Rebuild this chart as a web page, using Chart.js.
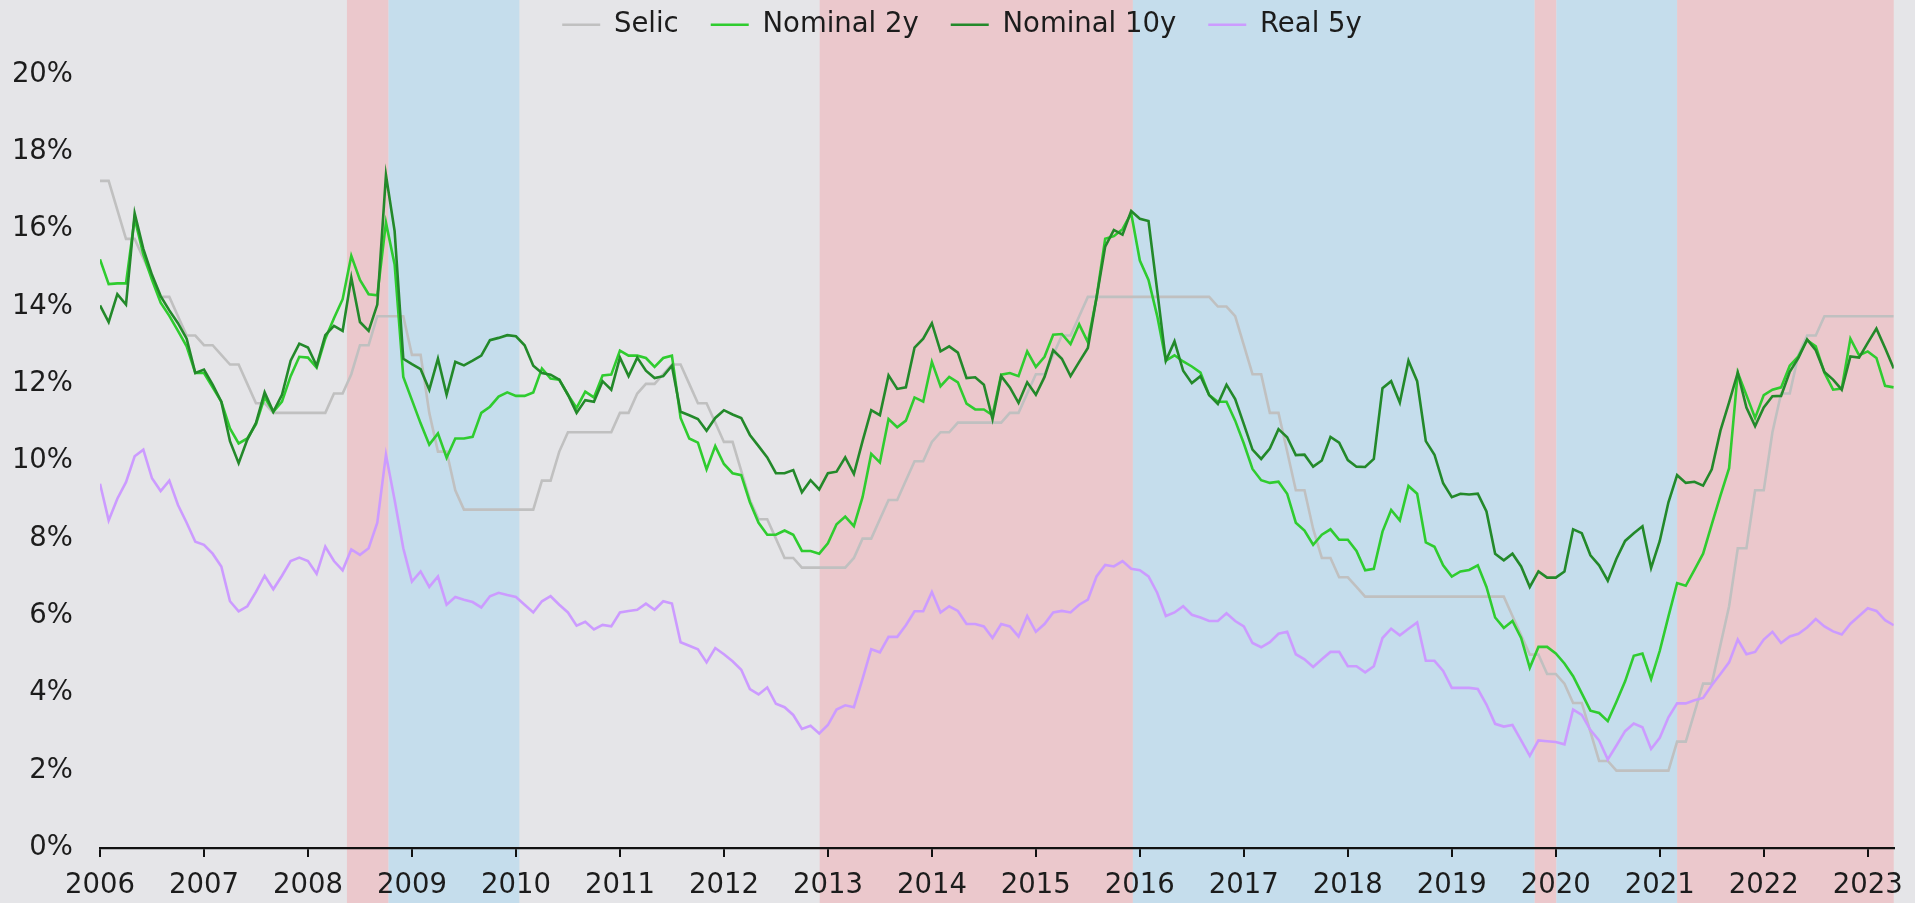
<!DOCTYPE html>
<html>
<head>
<meta charset="utf-8">
<script src="https://cdn.jsdelivr.net/npm/chart.js@4.4.1/dist/chart.umd.min.js"></script>
<style>
  html, body { margin: 0; padding: 0; background: #e5e5e8; }
  #wrap { width: 1915px; height: 903px; }
  canvas { display: block; }
</style>
</head>
<body>
<div id="wrap"><canvas id="c" width="1915" height="903"></canvas></div>
<script>
// ---------- data (monthly, Jan 2006 .. Apr 2023) ----------
const startYear = 2006;
const seriesNames = ['Selic', 'Nominal 2y', 'Nominal 10y', 'Real 5y'];

const selic = [
  17.25,17.25,16.5,15.75,15.75,15.25,14.75,14.25,14.25,13.75,13.25,13.25,
  13,13,12.75,12.5,12.5,12,11.5,11.5,11.25,11.25,11.25,11.25,
  11.25,11.25,11.25,11.75,11.75,12.25,13,13,13.75,13.75,13.75,13.75,
  12.75,12.75,11.25,10.25,10.25,9.25,8.75,8.75,8.75,8.75,8.75,8.75,
  8.75,8.75,8.75,9.5,9.5,10.25,10.75,10.75,10.75,10.75,10.75,10.75,
  11.25,11.25,11.75,12,12,12.25,12.5,12.5,12,11.5,11.5,11,
  10.5,10.5,9.75,9,8.5,8.5,8,7.5,7.5,7.25,7.25,7.25,
  7.25,7.25,7.25,7.5,8,8,8.5,9,9,9.5,10,10,
  10.5,10.75,10.75,11,11,11,11,11,11,11.25,11.25,11.75,
  12.25,12.25,12.75,13.25,13.25,13.75,14.25,14.25,14.25,14.25,14.25,14.25,
  14.25,14.25,14.25,14.25,14.25,14.25,14.25,14.25,14.25,14,14,13.75,
  13,12.25,12.25,11.25,11.25,10.25,9.25,9.25,8.25,7.5,7.5,7,
  7,6.75,6.5,6.5,6.5,6.5,6.5,6.5,6.5,6.5,6.5,6.5,
  6.5,6.5,6.5,6.5,6.5,6.5,6.5,6,5.5,5,5,4.5,
  4.5,4.25,3.75,3.75,3,2.25,2.25,2,2,2,2,2,
  2,2,2.75,2.75,3.5,4.25,4.25,5.25,6.25,7.75,7.75,9.25,
  9.25,10.75,11.75,11.75,12.75,13.25,13.25,13.75,13.75,13.75,13.75,13.75,
  13.75,13.75,13.75,13.75
];

const nominal2y = [
  15.22,14.58,14.60,14.60,16.28,15.35,14.69,14.10,13.76,13.37,12.97,12.28,
  12.28,11.91,11.54,10.85,10.46,10.59,10.96,11.65,11.28,11.54,12.20,12.70,
  12.68,12.42,13.17,13.70,14.19,15.31,14.69,14.32,14.29,16.17,15.09,12.18,
  11.58,10.98,10.43,10.72,10.09,10.59,10.59,10.63,11.25,11.41,11.67,11.78,
  11.69,11.69,11.78,12.40,12.14,12.11,11.72,11.38,11.80,11.65,12.22,12.24,
  12.86,12.73,12.73,12.67,12.44,12.67,12.73,11.12,10.59,10.48,9.79,10.39,
  9.93,9.69,9.64,8.94,8.41,8.10,8.10,8.21,8.10,7.68,7.68,7.61,
  7.88,8.37,8.57,8.32,9.07,10.19,9.97,11.09,10.88,11.05,11.65,11.54,
  12.57,11.94,12.18,12.04,11.49,11.34,11.34,11.19,12.24,12.28,12.20,12.84,
  12.44,12.70,13.27,13.29,13.03,13.54,13.08,14.23,15.75,15.82,16.00,16.41,
  15.19,14.69,13.76,12.60,12.74,12.58,12.45,12.29,11.71,11.54,11.54,11.05,
  10.46,9.80,9.51,9.44,9.47,9.16,8.41,8.21,7.84,8.10,8.24,7.97,
  7.97,7.68,7.18,7.22,8.18,8.74,8.47,9.36,9.16,7.90,7.79,7.31,
  7.02,7.15,7.19,7.31,6.75,5.96,5.69,5.87,5.43,4.66,5.20,5.20,
  5.03,4.77,4.44,4.00,3.55,3.49,3.28,3.78,4.31,4.97,5.03,4.37,
  5.10,5.99,6.85,6.78,7.19,7.61,8.37,9.11,9.82,12.29,11.71,11.12,
  11.71,11.85,11.91,12.47,12.71,13.13,12.97,12.29,11.85,11.88,13.17,12.74,
  12.84,12.67,11.95,11.91
];

const nominal10y = [
  14.03,13.60,14.32,14.05,16.41,15.49,14.82,14.27,13.90,13.57,13.17,12.28,
  12.37,11.98,11.54,10.52,9.95,10.56,10.99,11.78,11.28,11.72,12.60,13.04,
  12.94,12.47,13.26,13.50,13.37,14.75,13.60,13.37,14.05,17.40,15.95,12.65,
  12.51,12.38,11.85,12.65,11.72,12.57,12.48,12.60,12.73,13.13,13.19,13.26,
  13.23,13.00,12.47,12.28,12.24,12.11,11.72,11.25,11.58,11.54,12.07,11.85,
  12.68,12.20,12.68,12.34,12.15,12.20,12.47,11.28,11.19,11.09,10.79,11.12,
  11.32,11.21,11.12,10.68,10.39,10.10,9.69,9.69,9.77,9.20,9.51,9.27,
  9.69,9.73,10.10,9.67,10.52,11.32,11.19,12.22,11.87,11.91,12.94,13.17,
  13.57,12.84,12.97,12.81,12.15,12.17,11.98,11.09,12.20,11.91,11.51,12.04,
  11.72,12.18,12.87,12.65,12.20,12.57,12.93,14.23,15.55,15.98,15.86,16.47,
  16.27,16.21,14.42,12.60,13.10,12.34,12.02,12.20,11.71,11.48,11.98,11.61,
  10.96,10.30,10.06,10.33,10.83,10.62,10.16,10.17,9.86,10.02,10.63,10.48,
  10.03,9.86,9.85,10.06,11.89,12.07,11.52,12.60,12.07,10.52,10.17,9.43,
  9.07,9.16,9.14,9.16,8.70,7.61,7.44,7.61,7.28,6.75,7.15,6.99,
  6.99,7.15,8.24,8.14,7.57,7.31,6.91,7.48,7.94,8.14,8.32,7.24,
  7.94,8.94,9.64,9.44,9.47,9.37,9.79,10.79,11.52,12.29,11.39,10.91,
  11.39,11.68,11.69,12.31,12.67,13.15,12.87,12.31,12.11,11.85,12.71,12.68,
  13.06,13.43,12.93,12.40
];

const real5y = [
  9.42,8.47,9.03,9.46,10.13,10.30,9.56,9.23,9.50,8.87,8.41,7.92,
  7.84,7.61,7.28,6.38,6.12,6.25,6.62,7.04,6.69,7.04,7.42,7.51,
  7.42,7.09,7.79,7.42,7.18,7.72,7.58,7.75,8.41,10.17,9.00,7.75,
  6.89,7.15,6.75,7.02,6.29,6.49,6.42,6.36,6.22,6.51,6.60,6.54,
  6.49,6.29,6.09,6.38,6.51,6.29,6.09,5.75,5.85,5.65,5.77,5.73,
  6.09,6.13,6.16,6.32,6.16,6.38,6.32,5.32,5.23,5.14,4.80,5.17,
  5.01,4.83,4.61,4.11,3.97,4.15,3.73,3.64,3.44,3.08,3.16,2.96,
  3.18,3.58,3.69,3.64,4.37,5.14,5.06,5.46,5.46,5.76,6.12,6.12,
  6.62,6.09,6.25,6.13,5.79,5.79,5.73,5.43,5.79,5.73,5.47,6.00,
  5.59,5.79,6.09,6.13,6.09,6.29,6.42,7.02,7.32,7.28,7.42,7.22,
  7.18,7.02,6.60,6.00,6.09,6.25,6.03,5.96,5.87,5.87,6.07,5.87,
  5.73,5.30,5.19,5.32,5.54,5.59,5.01,4.88,4.68,4.88,5.07,5.07,
  4.70,4.70,4.54,4.70,5.43,5.67,5.50,5.67,5.83,4.84,4.84,4.58,
  4.14,4.14,4.14,4.11,3.71,3.21,3.14,3.18,2.78,2.38,2.78,2.76,
  2.74,2.68,3.58,3.44,3.05,2.78,2.29,2.65,3.02,3.22,3.12,2.56,
  2.85,3.38,3.74,3.74,3.82,3.88,4.21,4.50,4.80,5.39,5.01,5.07,
  5.39,5.59,5.30,5.47,5.54,5.70,5.92,5.73,5.60,5.52,5.80,6.00,
  6.20,6.13,5.89,5.76
];

// time axis: one category per month (decimal year)
const months = selic.map((_, i) => startYear + i / 12);

// y-axis tick labels
const yTicks = [0, 2, 4, 6, 8, 10, 12, 14, 16, 18, 20];

// monetary-policy phases (decimal years): tightening / easing
const bandFrom = [2008.375, 2008.775, 2012.921, 2015.933, 2019.797, 2020.006, 2021.167];
const bandTo   = [2008.775, 2010.033, 2015.933, 2019.797, 2020.006, 2021.167, 2023.25];
const bandKind = ['up', 'down', 'up', 'down', 'up', 'down', 'up'];

// ---------- style ----------
const BG = '#e5e5e8';
const BAND_COLORS = { up: '#ebc8cc', down: '#c5ddec' };
const COLORS = ['#c0c0c0', '#2fcc2f', '#23892a', '#cc9bff'];
const FONT = { family: "'DejaVu Sans', sans-serif", size: 27.5 };
const TEXT = '#1c1c1c';

const bandsPlugin = {
  id: 'bands',
  afterLayout(chart) {
    // centre the legend block where the reference has it
    const lg = chart.legend;
    if (lg) { lg.left += 27; }
  },
  beforeDraw(chart) {
    const { ctx, width, height } = chart;
    const x = chart.scales.x;
    ctx.save();
    ctx.fillStyle = BG;
    ctx.fillRect(0, 0, width, height);
    for (let i = 0; i < bandFrom.length; i++) {
      const x0 = x.getPixelForValue(bandFrom[i]);
      const x1 = x.getPixelForValue(bandTo[i]);
      ctx.fillStyle = BAND_COLORS[bandKind[i]];
      ctx.fillRect(x0, 0, x1 - x0, height);
    }
    ctx.restore();
  }
};

const seriesData = [selic, nominal2y, nominal10y, real5y];
const drawOrder = [4, 2, 1, 3];

const chart = new Chart(document.getElementById('c'), {
  type: 'line',
  data: {
    labels: months,
    datasets: seriesData.map((d, i) => ({
      label: seriesNames[i],
      data: d,
      borderColor: COLORS[i],
      backgroundColor: COLORS[i],
      borderWidth: 2.6,
      pointRadius: 0,
      pointHoverRadius: 0,
      tension: 0,
      fill: false,
      order: drawOrder[i]
    }))
  },
  options: {
    responsive: false,
    animation: false,
    devicePixelRatio: 1,
    layout: { padding: { left: 0, right: 18, top: -21, bottom: 0 } },
    plugins: {
      legend: {
        display: true,
        position: 'top',
        align: 'center',
        labels: {
          usePointStyle: true,
          pointStyle: 'line',
          pointStyleWidth: 38,
          padding: 32,
          color: TEXT,
          font: FONT,
          sort: (a, b) => a.datasetIndex - b.datasetIndex
        }
      },
      tooltip: { enabled: false }
    },
    scales: {
      x: {
        type: 'linear',
        min: startYear,
        max: months[months.length - 1],
        border: { display: true, color: '#111', width: 2.2 },
        grid: { display: true, drawOnChartArea: false, drawTicks: true, tickLength: 9, color: '#111', lineWidth: 2 },
        ticks: {
          stepSize: 1,
          includeBounds: false,
          autoSkip: false,
          maxRotation: 0,
          minRotation: 0,
          padding: 12,
          color: TEXT,
          font: FONT,
          callback: (v) => (Number.isInteger(v) ? String(v) : '')
        },
        afterFit: (s) => { s.height = 55; }
      },
      y: {
        type: 'linear',
        min: 0,
        max: 20.7,
        border: { display: false },
        grid: { display: false, drawTicks: false },
        afterBuildTicks: (s) => { s.ticks = yTicks.map(v => ({ value: v })); },
        ticks: {
          padding: 27,
          color: TEXT,
          font: FONT,
          callback: (v) => v + '%'
        },
        afterFit: (s) => { s.width = 100; }
      }
    }
  },
  plugins: [bandsPlugin]
});

// place the 20% level where the reference has it (pixel 74.5)
(function fixTop() {
  const a = chart.chartArea;
  const target20 = 74.5;
  const max = 20 * (a.bottom - a.top) / (a.bottom - target20);
  chart.options.scales.y.max = max;
  chart.update('none');
})();
</script>
</body>
</html>
